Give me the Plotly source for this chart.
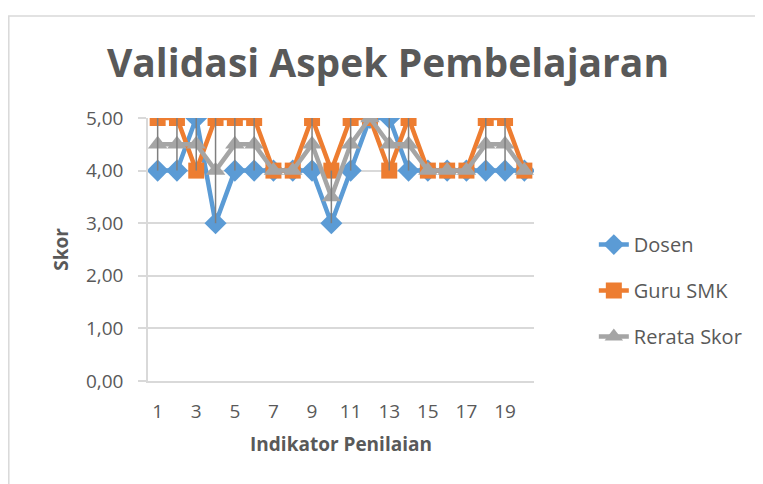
import plotly.graph_objects as go

categories = list(range(1, 21))
dosen = [4, 4, 5, 3, 4, 4, 4, 4, 4, 3, 4, 5, 5, 4, 4, 4, 4, 4, 4, 4]
guru_smk = [5, 5, 4, 5, 5, 5, 4, 4, 5, 4, 5, 5, 4, 5, 4, 4, 4, 5, 5, 4]
rerata = [4.5, 4.5, 4.5, 4, 4.5, 4.5, 4, 4, 4.5, 3.5, 4.5, 5, 4.5, 4.5, 4, 4, 4, 4.5, 4.5, 4]
tick_labels = [str(c) for c in categories if c % 2 == 1]
y_ticks = [0, 1, 2, 3, 4, 5]

FONT = "Open Sans"
TXT = "#595959"
GRID = "#D9D9D9"

W, H = 755, 476  # page body has an 8px margin

fig = go.Figure()
fig.add_trace(go.Scatter(x=categories, y=dosen, name="Dosen", mode="lines+markers",
                         legendgroup="a",
                         line=dict(color="#5B9BD5", width=4.5),
                         marker=dict(symbol="diamond", size=17, color="#5B9BD5")))
fig.add_trace(go.Scatter(x=categories, y=guru_smk, name="Guru SMK", mode="lines+markers",
                         legendgroup="b",
                         line=dict(color="#ED7D31", width=4.5),
                         marker=dict(symbol="square", size=16, color="#ED7D31")))
fig.add_trace(go.Scatter(x=categories, y=rerata, name="Rerata Skor", mode="lines+markers",
                         legendgroup="c",
                         line=dict(color="#A5A5A5", width=4.5),
                         marker=dict(symbol="triangle-up", size=17, color="#A5A5A5")))

# high-low lines
hx, hy = [], []
for c, a, b, r in zip(categories, dosen, guru_smk, rerata):
    lo, hi = min(a, b, r), max(a, b, r)
    if hi > lo:
        hx += [c, c, None]
        hy += [lo, hi, None]
fig.add_trace(go.Scatter(x=hx, y=hy, mode="lines", showlegend=False, hoverinfo="skip",
                         line=dict(color="#7F7F7F", width=1.5)))

fig.update_layout(
    width=W, height=H,
    margin=dict(l=140, r=229, t=110, b=103),
    paper_bgcolor="white", plot_bgcolor="white",
    separators=",.",
    font=dict(family=FONT, color=TXT, size=19),
    title=dict(text="<b>Validasi Aspek Pembelajaran</b>", font=dict(family=FONT, size=39, color=TXT),
               x=380 / W, xref="container", xanchor="center",
               y=1 - 55 / H, yref="container", yanchor="middle"),
    legend=dict(x=1.155, xanchor="left", y=0.344, yanchor="middle",
                font=dict(family=FONT, size=20, color=TXT), tracegroupgap=17,
                bgcolor="rgba(0,0,0,0)"),
    shapes=[dict(type="rect", xref="paper", yref="paper",
                 x0=(0.8 - 140) / 386, x1=(775 - 140) / 386,
                 y0=(373 - 495) / 263, y1=(373 - 8) / 263,
                 line=dict(color=GRID, width=1.5), fillcolor="rgba(0,0,0,0)", layer="below")],
)
fig.update_xaxes(range=[0.5, 20.5], tickmode="array",
                 tickvals=[c for c in categories if c % 2 == 1], ticktext=tick_labels,
                 showgrid=False, zeroline=False, showline=True, linecolor=GRID, linewidth=1.5,
                 ticks="", ticklabelstandoff=12, tickfont=dict(size=19, color=TXT),
                 title=dict(text="<b>Indikator Penilaian</b>", font=dict(size=19, color=TXT), standoff=15))
fig.update_yaxes(range=[0, 5], tickvals=y_ticks, tickformat=".2f",
                 showgrid=True, gridcolor=GRID, gridwidth=1.5, zeroline=False,
                 showline=True, linecolor=GRID, linewidth=1.5,
                 ticks="outside", ticklen=8, tickcolor=GRID, tickwidth=1.5,
                 ticklabelstandoff=11, tickfont=dict(size=19, color=TXT),
                 title=dict(text="<b>Skor</b>", font=dict(size=19, color=TXT), standoff=12))

fig.write_html("out.html")
